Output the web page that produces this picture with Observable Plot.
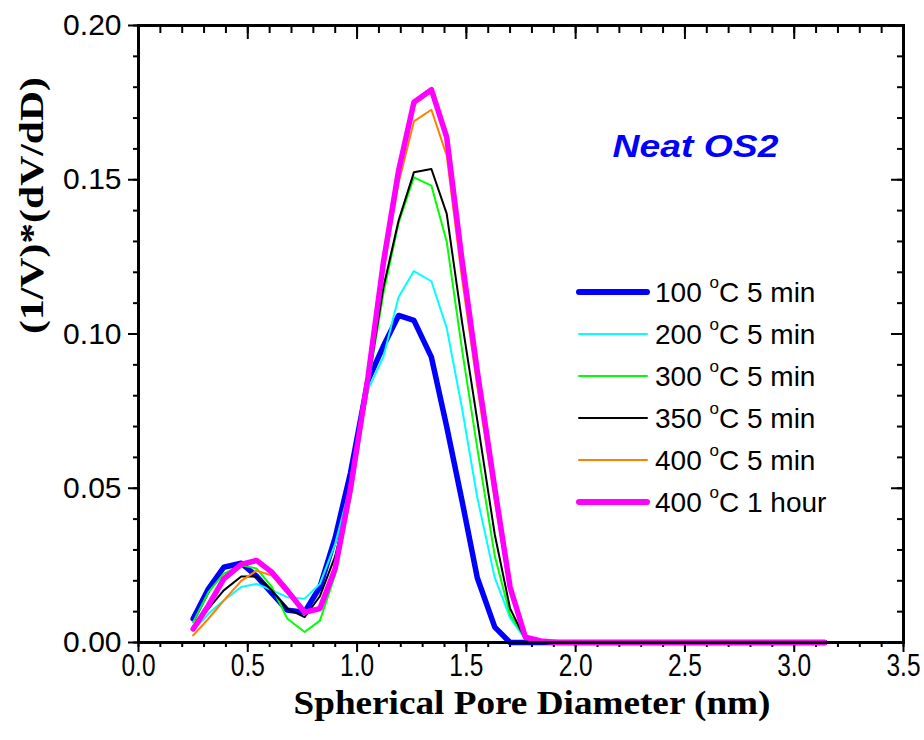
<!DOCTYPE html>
<html><head><meta charset="utf-8">
<script src="https://cdn.jsdelivr.net/npm/d3@7"></script>
<script src="https://cdn.jsdelivr.net/npm/@observablehq/plot@0.6"></script>
<style>body{margin:0;background:#fff} svg{display:block}</style>
</head><body><div id="chart"></div>
<script>
// ---- data ----
const diameters = [0.25,0.32,0.39,0.47,0.54,0.61,0.68,0.76,0.83,0.90,0.97,1.05,1.12,1.19,1.26,1.34,1.41,1.48,1.55,1.63,1.70,1.77,1.84,1.92,1.99,2.06,2.13,2.21,2.28,2.35,2.42,2.50,2.57,2.64,2.72,2.79,2.86,2.93,3.00,3.08,3.14];
const zeroTail = [0,0,0,0,0,0,0,0,0,0,0,0,0,0,0,0,0,0];
const t100_5min = [0.0077,0.0174,0.0244,0.0257,0.0215,0.0160,0.0105,0.0098,0.0180,0.0340,0.0550,0.0850,0.0960,0.1060,0.1044,0.0925,0.0700,0.0460,0.0210,0.0050,0,0,0, ...zeroTail];
const t200_5min = [0.0039,0.0093,0.0136,0.0180,0.0190,0.0170,0.0147,0.0142,0.0190,0.0320,0.0510,0.0820,0.0925,0.1120,0.1204,0.1171,0.1020,0.0760,0.0470,0.0210,0.0080,0.0010,0, ...zeroTail];
const t300_5min = [0.0066,0.0163,0.0223,0.0250,0.0240,0.0180,0.0078,0.0034,0.0071,0.0220,0.0470,0.0830,0.1130,0.1360,0.1508,0.1481,0.1300,0.0950,0.0630,0.0280,0.0090,0.0015,0, ...zeroTail];
const t350_5min = [0.0050,0.0110,0.0169,0.0214,0.0214,0.0169,0.0110,0.0082,0.0150,0.0280,0.0490,0.0840,0.1150,0.1368,0.1524,0.1535,0.1390,0.1040,0.0720,0.0350,0.0110,0.0010,0, ...zeroTail];
const t400_5min = [0.0023,0.0077,0.0136,0.0200,0.0233,0.0217,0.0160,0.0100,0.0110,0.0240,0.0470,0.0840,0.1200,0.1490,0.1689,0.1727,0.1579,0.1180,0.0830,0.0460,0.0160,0.0015,0, ...zeroTail];
const t400_1hour = [0.0044,0.0120,0.0206,0.0253,0.0266,0.0228,0.0169,0.0098,0.0110,0.0240,0.0500,0.0860,0.1230,0.1530,0.1751,0.1792,0.1638,0.1240,0.0880,0.0500,0.0180,0.0017,0.0005,0, ...zeroTail.slice(1)];
const legendTemps = ["100","200","300","350","400","400"];
const legendTimes = ["5 min","5 min","5 min","5 min","5 min","1 hour"];
const xTickLabels = [0,0.5,1.0,1.5,2.0,2.5,3.0,3.5];
const yTickLabels = [0,0.05,0.10,0.15,0.20];
const xTitle = "Spherical Pore Diameter (nm)";
const yTitle = "(1/V)*(dV/dD)";
const sampleTitle = "Neat OS2";

// ---- styles ----
const seriesValues = [t100_5min,t200_5min,t300_5min,t350_5min,t400_5min,t400_1hour];
const seriesColors = ["#0000ff","#00ffff","#00ff00","#000000","#ff8000","#ff00ff"];
const seriesWidths = [5.5,2,2,2,2,5.5];

const rows = seriesValues.map((vals,i) => diameters.map((d,j) => ({x:d, y:vals[j], s:i})));
const xMinor = d3.range(0, 3.5001, 0.1);
const yMinor = d3.range(0, 0.2001, 0.01);
const fmtX = d3.format(".1f");

const plot = Plot.plot({
  width: 924, height: 740,
  marginLeft: 138, marginRight: 21, marginTop: 25, marginBottom: 98,
  style: {fontFamily: "'Liberation Sans', Arial, sans-serif", background: "#fff", color: "#000"},
  x: {domain: [0, 3.5]},
  y: {domain: [0, 0.2]},
  marks: [
    Plot.axisX(xMinor, {tickSize: 5, strokeWidth: 2, tickFormat: () => "", label: null}),
    Plot.axisY(yMinor, {tickSize: 5, strokeWidth: 2, tickFormat: () => "", label: null}),
    Plot.axisX(xMinor, {anchor: "top", tickSize: 7, dy: 7, strokeWidth: 2, tickFormat: () => "", label: null}),
    Plot.axisY(yMinor, {anchor: "right", tickSize: 7, dx: -7, strokeWidth: 2, tickFormat: () => "", label: null}),
    Plot.axisX(xTickLabels, {tickSize: 10, strokeWidth: 2, tickFormat: () => "", label: null}),
    Plot.text(xTickLabels, {x: d => d, frameAnchor: "bottom", dy: 24, lineAnchor: "middle", text: fmtX, fontSize: 31}),
    Plot.axisY(yTickLabels, {tickSize: 10, tickPadding: 7, strokeWidth: 2, fontSize: 30, tickFormat: d3.format(".2f"), label: null}),
    Plot.axisX(xTickLabels, {anchor: "top", tickSize: 13, dy: 13, strokeWidth: 2, tickFormat: () => "", label: null}),
    Plot.axisY(yTickLabels, {anchor: "right", tickSize: 13, dx: -13, strokeWidth: 2, tickFormat: () => "", label: null}),
    ...rows.map((r,i) => Plot.line(r, {x: "x", y: "y", stroke: seriesColors[i], strokeWidth: seriesWidths[i], strokeLinejoin: "round", strokeLinecap: "round"})),
    Plot.frame({stroke: "#000", strokeWidth: 3}),
    Plot.text([xTitle], {frameAnchor: "bottom", dy: 61, dx: 11, fontSize: 33, fontWeight: "bold", fontFamily: "'Liberation Serif', 'Times New Roman', serif", lineAnchor: "middle"}),
    Plot.text([yTitle], {frameAnchor: "left", dx: -106, rotate: -90, fontSize: 33, fontWeight: "bold", fontFamily: "'Liberation Serif', 'Times New Roman', serif", lineAnchor: "middle"}),
    Plot.text([sampleTitle], {frameAnchor: "top-left", dx: 474, dy: 122, textAnchor: "start", lineAnchor: "middle", fontSize: 31, fontWeight: "bold", fontStyle: "italic", fill: "#0000ff"})
  ]
});
document.getElementById("chart").appendChild(plot);

const svg = d3.select(plot);
// x tick labels: condensed glyphs as in the reference
const xStrings = xTickLabels.map(fmtX);
svg.selectAll("text").each(function(){
  const s = this.textContent.trim();
  if (xStrings.includes(s)) {
    this.setAttribute("textLength", 34);
    this.setAttribute("lengthAdjust", "spacingAndGlyphs");
  }
});
function fit(str, len){
  svg.selectAll("text").filter(function(){ return this.textContent === str; }).each(function(){
    this.setAttribute("textLength", len); this.setAttribute("lengthAdjust","spacingAndGlyphs");
  });
}
fit(xTitle, 477); fit(yTitle, 257); fit(sampleTitle, 166);

// legend
const legend = svg.append("g").attr("font-family","'Liberation Sans', Arial, sans-serif").attr("font-size", 28).attr("text-anchor","start");
legendTemps.forEach((t,i) => {
  const y = 292 + i*42;
  legend.append("line").attr("x1",579).attr("x2",647).attr("y1",y).attr("y2",y)
    .attr("stroke",seriesColors[i]).attr("stroke-width",seriesWidths[i]+ (seriesWidths[i]>3?0.5:0)).attr("stroke-linecap","round");
  const tx = legend.append("text").attr("x",655).attr("y",y).attr("dy","0.36em").attr("fill","#000").attr("text-anchor","start");
  tx.append("tspan").text(t + " ");
  tx.append("tspan").attr("font-size",17).attr("dy","-0.85em").text("o");
  tx.append("tspan").attr("dy","0.52em").text("C " + legendTimes[i]);
});
</script></body></html>
